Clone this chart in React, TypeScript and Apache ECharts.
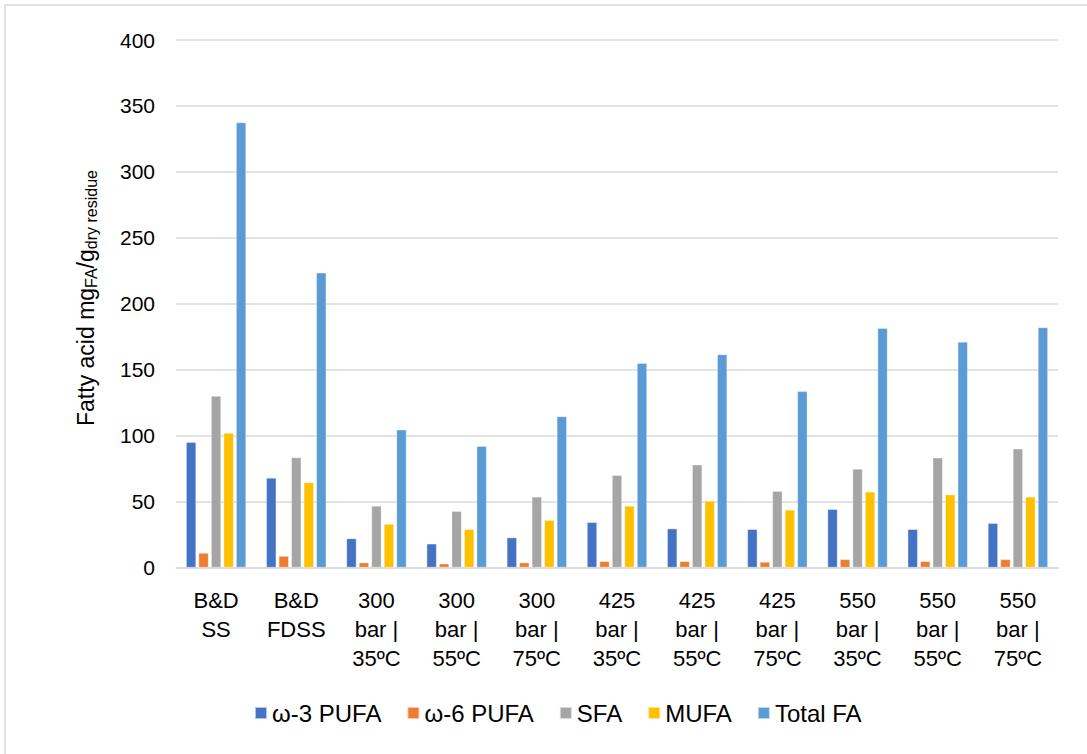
import React, { useEffect, useRef } from "react";
import * as echarts from "echarts";

const categories = [
  "B&D\nSS",
  "B&D\nFDSS",
  "300\nbar |\n35ºC",
  "300\nbar |\n55ºC",
  "300\nbar |\n75ºC",
  "425\nbar |\n35ºC",
  "425\nbar |\n55ºC",
  "425\nbar |\n75ºC",
  "550\nbar |\n35ºC",
  "550\nbar |\n55ºC",
  "550\nbar |\n75ºC",
];
const omega3 = [95, 68, 22, 18, 22.7, 34.3, 29.5, 29, 44.2, 29, 33.6];
const omega6 = [11, 8.7, 3.7, 2.9, 3.7, 4.7, 4.7, 4.2, 6.2, 4.7, 6.2];
const sfa = [130, 83.4, 46.7, 42.7, 53.6, 70, 78, 57.9, 74.8, 83.2, 90];
const mufa = [102, 64.5, 33, 29, 35.9, 46.7, 50.5, 43.7, 57.4, 55.3, 53.6];
const totalFA = [337.5, 223.5, 104.5, 92, 114.6, 155, 161.5, 133.6, 181.5, 171, 182];

const seriesNames = ["ω-3 PUFA", "ω-6 PUFA", "SFA", "MUFA", "Total FA"];
const seriesColors = ["#4472C4", "#ED7D31", "#A5A5A5", "#FFC000", "#5B9BD5"];
const seriesData = [omega3, omega6, sfa, mufa, totalFA];

export default function App() {
  const ref = useRef<HTMLDivElement>(null);
  useEffect(() => {
    document.body.style.margin = "0";
    const chart = echarts.init(ref.current!, null, { renderer: "svg" });
    const font = "'Liberation Sans', Helvetica, Arial, sans-serif";
    chart.setOption({
      animation: false,
      backgroundColor: "#ffffff",
      textStyle: { fontFamily: font },
      graphic: [
        {
          type: "rect",
          shape: { x: 5, y: 5, width: 1200, height: 900 },
          style: { fill: "none", stroke: "#D9D9D9", lineWidth: 1.5 },
          silent: true,
        },
        {
          type: "text",
          x: 86,
          y: 298,
          rotation: Math.PI / 2,
          style: {
            text: "{m|Fatty acid mg}{s|FA}{m|/g}{s|dry residue}",
            rich: {
              m: { fontSize: 23, fill: "#000", fontFamily: font },
              s: { fontSize: 16, fill: "#000", fontFamily: font, padding: [10, 0, 0, 0] },
            },
            align: "center",
            verticalAlign: "middle",
          },
          silent: true,
        },
      ],
      legend: {
        top: 696,
        left: 249,
        itemWidth: 12,
        itemHeight: 12,
        itemGap: 25,
        icon: "rect",
        textStyle: { fontSize: 24, color: "#000", fontFamily: font },
        data: seriesNames,
      },
      grid: { left: 176, right: 29, top: 40, bottom: 186.5, containLabel: false },
      xAxis: {
        type: "category",
        data: categories,
        axisLine: { lineStyle: { color: "#D9D9D9", width: 1.5 } },
        axisTick: { show: false },
        axisLabel: {
          fontSize: 22,
          color: "#000",
          lineHeight: 29,
          margin: 18,
          interval: 0,
          fontFamily: font,
        },
      },
      yAxis: {
        type: "value",
        min: 0,
        max: 400,
        interval: 50,
        axisLine: { show: false },
        axisTick: { show: false },
        splitLine: { lineStyle: { color: "#D9D9D9", width: 1.5 } },
        axisLabel: { fontSize: 21, color: "#000", margin: 21, fontFamily: font },
      },
      series: seriesNames.map((name, i) => ({
        name,
        type: "bar",
        data: seriesData[i],
        barWidth: 10,
        barGap: "25%",
        itemStyle: { color: seriesColors[i], borderColor: "rgba(255,255,255,0.6)", borderWidth: 0.6 },
      })),
    });
    return () => chart.dispose();
  }, []);
  return <div ref={ref} style={{ width: 1087, height: 754 }} />;
}
